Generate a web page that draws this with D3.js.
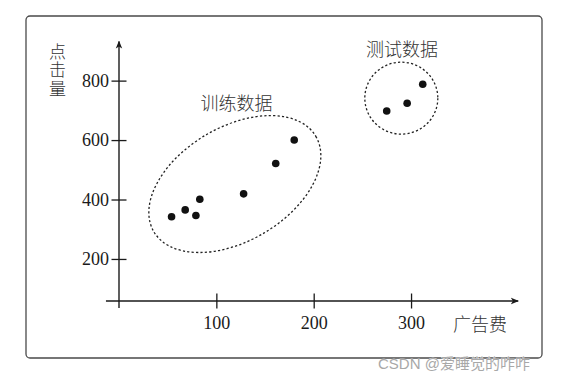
<!DOCTYPE html>
<html>
<head>
<meta charset="utf-8">
<script src="https://cdn.jsdelivr.net/npm/d3@7"></script>
<style>
  html, body { margin: 0; padding: 0; background: #fff; }
  svg { display: block; }
  .tick text { font-family: 'Liberation Serif', 'Times New Roman', serif; font-size: 18px; fill: #1a1a1a; }
</style>
</head>
<body>
<svg id="chart" width="564" height="383"></svg>
<script>
// ---- data ----
const trainX = [54, 68, 79, 83, 128, 161, 180];
const trainY = [342, 365, 346, 401, 419, 521, 600];
const testX = [275, 296, 312];
const testY = [698, 724, 788];
const xTicks = [100, 200, 300];
const yTicks = [200, 400, 600, 800];
const groupNames = ["训练数据", "测试数据"];
const groupCenterX = [119, 290];
const groupCenterY = [452, 741];
const xLabel = "广告费";
const yLabel = "点击量";
const watermark = "CSDN @爱睡觉的咋咋";

// ---- layout ----
const svg = d3.select("#chart");
const x = d3.scaleLinear().domain([0, 400]).range([119, 508.4]);
const y = d3.scaleLinear().domain([0, 900]).range([318.4, 50.9]);
const xAxisAt = 58.5;   // value of y where the x-axis is drawn
const serif = "'Liberation Serif', 'Times New Roman', serif";
const cjk = "'Noto Sans CJK SC', sans-serif";
const ink = "#1a1a1a";

// frame
svg.append("rect")
  .attr("x", 26).attr("y", 16).attr("width", 516).attr("height", 342)
  .attr("rx", 4).attr("ry", 4)
  .attr("fill", "none").attr("stroke", "#4a4a4a").attr("stroke-width", 1.3);

// arrowhead marker
const defs = svg.append("defs");
defs.append("marker")
  .attr("id", "arrow").attr("viewBox", "0 0 10 10")
  .attr("refX", 9).attr("refY", 5)
  .attr("markerWidth", 8).attr("markerHeight", 8)
  .attr("markerUnits", "userSpaceOnUse")
  .attr("orient", "auto")
  .append("path").attr("d", "M0,1 L10,5 L0,9 L2.5,5 Z").attr("fill", ink);

// axis lines
svg.append("line")
  .attr("x1", x(-13.4)).attr("x2", x(410))
  .attr("y1", y(xAxisAt)).attr("y2", y(xAxisAt))
  .attr("stroke", ink).attr("stroke-width", 1.4).attr("marker-end", "url(#arrow)");
svg.append("line")
  .attr("x1", x(0)).attr("x2", x(0))
  .attr("y1", y(35)).attr("y2", y(932))
  .attr("stroke", ink).attr("stroke-width", 1.4).attr("marker-end", "url(#arrow)");

// x axis ticks
const gx = svg.append("g")
  .attr("transform", `translate(0,${y(xAxisAt)})`)
  .call(d3.axisBottom(x).tickValues(xTicks).tickSize(7.5).tickPadding(8).tickFormat(d3.format("d")))
  .attr("font-family", serif).attr("font-size", 18);
gx.select(".domain").remove();
gx.selectAll(".tick line").attr("y1", -7.5).attr("stroke", ink).attr("stroke-width", 1.3);
gx.selectAll(".tick text").style("font-family", serif).style("font-size", "18px");

// y axis ticks
const gy = svg.append("g")
  .attr("transform", `translate(${x(0)},0)`)
  .call(d3.axisLeft(y).tickValues(yTicks).tickSize(7.5).tickPadding(2.5).tickFormat(d3.format("d")))
  .attr("font-family", serif).attr("font-size", 18);
gy.select(".domain").remove();
gy.selectAll(".tick line").attr("x1", 7.5).attr("stroke", ink).attr("stroke-width", 1.3);
gy.selectAll(".tick text").style("font-family", serif).style("font-size", "18px");

// axis titles
svg.append("text")
  .attr("x", 453).attr("y", y(xAxisAt) + 22)
  .attr("dominant-baseline", "central")
  .style("font-family", cjk).style("font-size", "18px").style("font-weight", 300).attr("fill", "#333")
  .text(xLabel);
svg.append("text")
  .attr("x", 57.5).attr("y", 43)
  .style("writing-mode", "vertical-rl").style("text-orientation", "upright")
  .style("letter-spacing", "1.5px")
  .style("font-family", cjk).style("font-size", "17px").style("font-weight", 300).attr("fill", "#333")
  .text(yLabel);

// group ellipses
const ellipseStyle = [
  { rx: 94, ry: 57, rot: -30.5 },
  { rx: 36.5, ry: 36, rot: 0 }
];
groupNames.forEach((name, i) => {
  const cx = x(groupCenterX[i]), cy = y(groupCenterY[i]);
  svg.append("ellipse")
    .attr("cx", cx).attr("cy", cy)
    .attr("rx", ellipseStyle[i].rx).attr("ry", ellipseStyle[i].ry)
    .attr("transform", `rotate(${ellipseStyle[i].rot},${cx},${cy})`)
    .attr("fill", "none").attr("stroke", "#222").attr("stroke-width", 1.3)
    .attr("stroke-dasharray", "2.2 2.2");
});

// group labels
const labelPos = [{ x: 236.5, y: 102 }, { x: 402, y: 48 }];
svg.append("g").selectAll("text").data(groupNames).join("text")
  .attr("x", (d, i) => labelPos[i].x).attr("y", (d, i) => labelPos[i].y)
  .attr("text-anchor", "middle").attr("dominant-baseline", "central")
  .style("font-family", cjk).style("font-size", "18px").style("font-weight", 300).attr("fill", "#333")
  .text(d => d);

// points
const pts = trainX.map((v, i) => [v, trainY[i]]).concat(testX.map((v, i) => [v, testY[i]]));
svg.append("g").selectAll("circle").data(pts).join("circle")
  .attr("cx", d => x(d[0])).attr("cy", d => y(d[1])).attr("r", 3.8)
  .attr("fill", "#111");

// watermark
svg.append("text")
  .attr("x", 378).attr("y", 363)
  .attr("dominant-baseline", "central")
  .style("font-family", "'Liberation Sans', 'Noto Sans CJK SC', sans-serif")
  .style("font-size", "15px").attr("fill", "#a8a8a8")
  .attr("stroke", "#fff").attr("stroke-width", 0.6).attr("paint-order", "stroke")
  .text(watermark);
</script>
</body>
</html>
